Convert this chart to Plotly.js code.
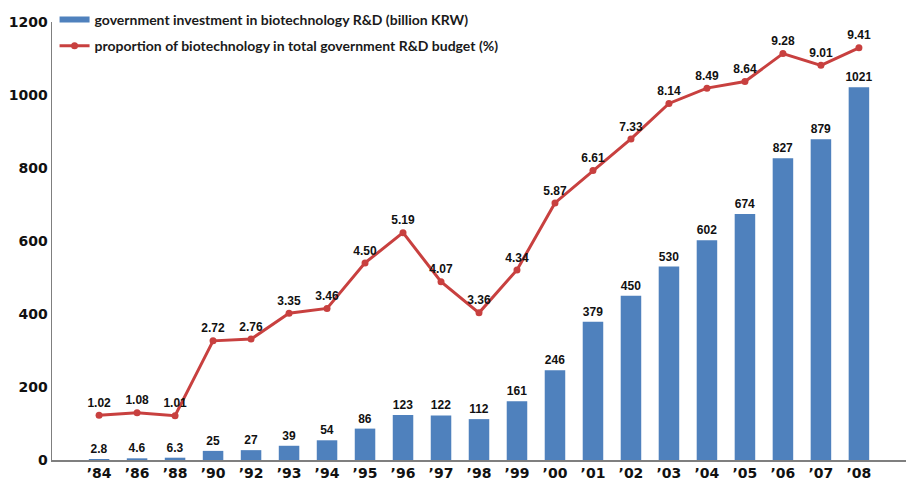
<!DOCTYPE html>
<html>
<head>
<meta charset="utf-8">
<script src="https://cdn.plot.ly/plotly-3.0.1.min.js"></script>
<style>html,body{margin:0;padding:0;background:#fff;}#chart{width:906px;height:483px;}</style>
</head>
<body>
<div id="chart"></div>
<script>
const years = ["’84","’86","’88","’90","’92","’93","’94","’95","’96","’97","’98","’99","’00","’01","’02","’03","’04","’05","’06","’07","’08"];
const investment = [2.8,4.6,6.3,25,27,39,54,86,123,122,112,161,246,379,450,530,602,674,827,879,1021];
const proportion = [1.02,1.08,1.01,2.72,2.76,3.35,3.46,4.50,5.19,4.07,3.36,4.34,5.87,6.61,7.33,8.14,8.49,8.64,9.28,9.01,9.41];
const nameBar = "government investment in biotechnology R&D (billion KRW)";
const nameLine = "proportion of biotechnology in total government R&D budget (%)";

const blue = "#4f81bd", red = "#c8403f";
const labelFont = {family:"Liberation Sans, Arial, sans-serif", size:12, color:"#111", weight:"bold"};

const traces = [
  {type:"bar", x:years, y:investment, marker:{color:blue}, text:investment.map(String),
   textposition:"outside", constraintext:"none", textfont:labelFont, cliponaxis:false, showlegend:false, hoverinfo:"skip"},
  {type:"scatter", mode:"lines", x:[null], y:[null], name:nameBar, line:{color:blue, width:6}, legend:"legend", showlegend:true},
  {type:"scatter", mode:"lines+markers+text", x:years, y:proportion, yaxis:"y2", name:nameLine,
   line:{color:red, width:3}, marker:{color:red, size:7},
   text:proportion.map(v=>v.toFixed(2)), textposition:"top center", textfont:labelFont,
   cliponaxis:false, legend:"legend2"}
];

const tickFont = {family:"DejaVu Sans, sans-serif", size:14, color:"#111", weight:"bold"};
const legFont = {family:"Lato, sans-serif", size:14, color:"#1a1a1a", weight:"bold"};
const layout = {
  width:906, height:483,
  margin:{l:52, r:0, t:22, b:23},
  paper_bgcolor:"#fff", plot_bgcolor:"#fff",
  bargap:0.46,
  xaxis:{type:"category", showgrid:false, showline:true, linecolor:"#7f7f7f", linewidth:1.5,
         ticks:"", tickfont:tickFont, zeroline:false},
  yaxis:{range:[0,1200], dtick:200, showgrid:false, showline:true, linecolor:"#7f7f7f", linewidth:1.5,
         ticks:"", tickfont:tickFont, zeroline:false},
  yaxis2:{range:[0,10], overlaying:"y", side:"right", visible:false, showgrid:false},
  legend:{x:0.003, y:1.005, xanchor:"left", yanchor:"middle", font:legFont, bgcolor:"rgba(0,0,0,0)", itemwidth:30},
  legend2:{x:0.003, y:0.945, xanchor:"left", yanchor:"middle", font:legFont, bgcolor:"rgba(0,0,0,0)", itemwidth:30},
  showlegend:true
};
Plotly.newPlot("chart", traces, layout, {displayModeBar:false, staticPlot:true});
</script>
</body>
</html>
